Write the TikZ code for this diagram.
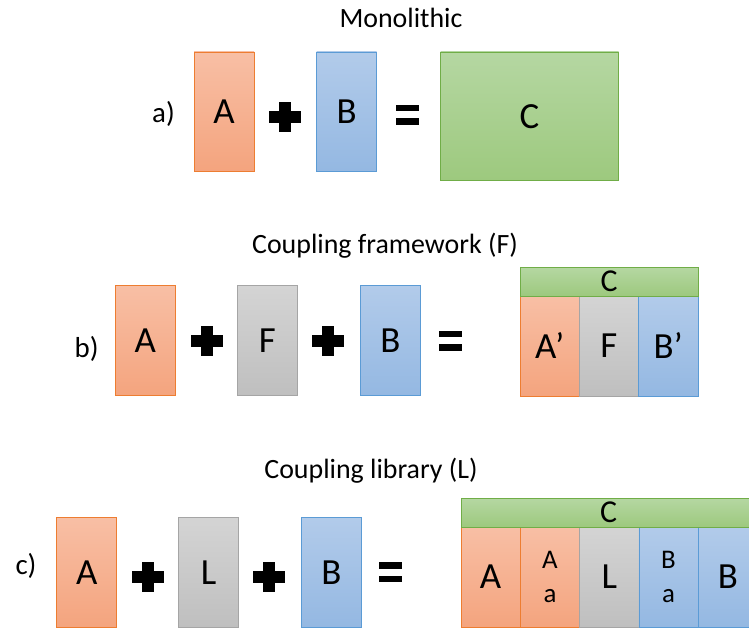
\documentclass[tikz,border=0pt]{standalone}
\usepackage{fontspec}
\setmainfont{Carlito}
\usetikzlibrary{positioning}
\definecolor{edgeA}{HTML}{ED7D31}
\definecolor{topA}{HTML}{F8BFA5}
\definecolor{botA}{HTML}{F4A47E}
\definecolor{edgeB}{HTML}{5B9BD5}
\definecolor{topB}{HTML}{B2CBEA}
\definecolor{botB}{HTML}{94B8E2}
\definecolor{edgeF}{HTML}{A5A5A5}
\definecolor{topF}{HTML}{D4D4D4}
\definecolor{botF}{HTML}{BFBFBF}
\definecolor{edgeC}{HTML}{70AD47}
\definecolor{topC}{HTML}{B5D7A2}
\definecolor{botC}{HTML}{9DC97E}

\tikzset{
  block/.style={draw, line width=0.8pt, inner sep=0pt, outer sep=0pt,
    minimum width=60bp, minimum height=110bp, font=\fontsize{37}{44}\selectfont},
  blockA/.style={block, draw=edgeA, top color=topA, bottom color=botA},
  blockB/.style={block, draw=edgeB, top color=topB, bottom color=botB},
  blockF/.style={block, draw=edgeF, top color=topF, bottom color=botF},
  blockC/.style={block, draw=edgeC, top color=topC, bottom color=botC},
  part/.style={minimum width=59.3bp, minimum height=100bp},
  bar/.style={minimum height=29bp, font=\fontsize{32}{38}\selectfont},
  small/.style={align=center, font=\fontsize{27}{34}\selectfont},
  title/.style={anchor=base, font=\fontsize{28}{34}\selectfont},
  rowlabel/.style={anchor=base, font=\fontsize{29}{35}\selectfont},
  plussign/.pic={
    \fill (-16,-6) rectangle (16,6);
    \fill (-6,-15) rectangle (6,15);},
  equalsign/.pic={
    \fill (-11.5,-10) rectangle (11.5,-3.5);
    \fill (-11.5,3.5) rectangle (11.5,10);},
}

\begin{document}
\begin{tikzpicture}[x=1bp, y=-1bp]
  \useasboundingbox (0,0) rectangle (749,628);
  \clip (0,0) rectangle (749,628);

  % a) monolithic
  \node[title] (titleA) at (401,28) {Monolithic};
  \node[rowlabel] (labA) at (163.5,123) {a)};
  \node[blockA, minimum height=119bp] (aA) at (224,111.5) {A};
  \pic (aplus) at (285,117) {plussign};
  \node[blockB, minimum height=119bp] (aB) at (346.7,111.5) {B};
  \pic (aeq) at (407.5,115) {equalsign};
  \node[blockC, minimum width=178bp, minimum height=128.7bp] (aC) at (529.5,116.3) {C};

  % b) coupling framework
  \node[title] (titleB) at (385,253) {Coupling framework (F)};
  \node[rowlabel] (labB) at (86.7,357) {b)};
  \node[blockA] (bA) at (145.3,340.7) {A};
  \pic (bplus1) at (206.7,341) {plussign};
  \node[blockF] (bF) at (267.3,340.7) {F};
  \pic (bplus2) at (328,341) {plussign};
  \node[blockB] (bB) at (390.3,340.7) {B};
  \pic (beq) at (450.7,340.5) {equalsign};
  \node[blockA, part, anchor=north west] (bA2) at (520,296) {A’};
  \node[blockF, part, right=0pt of bA2] (bF2) {F};
  \node[blockB, part, right=0pt of bF2] (bB2) {B’};
  \node[blockC, bar, minimum width=178bp, anchor=south west] (bC) at (bA2.north west) {C};

  % c) coupling library
  \node[title] (titleC) at (371,478) {Coupling library (L)};
  \node[rowlabel] (labC) at (26,574) {c)};
  \node[blockA] (cA) at (86.7,572.2) {A};
  \pic (cplus1) at (147.5,576.5) {plussign};
  \node[blockF] (cL) at (208.5,572.2) {L};
  \pic (cplus2) at (269,576.5) {plussign};
  \node[blockB] (cB) at (331.3,572.2) {B};
  \pic (ceq) at (390.5,572) {equalsign};
  \node[blockA, part, anchor=north west] (cA2) at (461,527) {A};
  \node[blockA, part, small, right=0pt of cA2] (cAa) {A\\a};
  \node[blockF, part, right=0pt of cAa] (cL2) {L};
  \node[blockB, part, small, right=0pt of cL2] (cBa) {B\\a};
  \node[blockB, part, right=0pt of cBa] (cB2) {B};
  \node[blockC, bar, minimum width=295bp, anchor=south west] (cC) at (cA2.north west) {C};
\end{tikzpicture}
\end{document}
